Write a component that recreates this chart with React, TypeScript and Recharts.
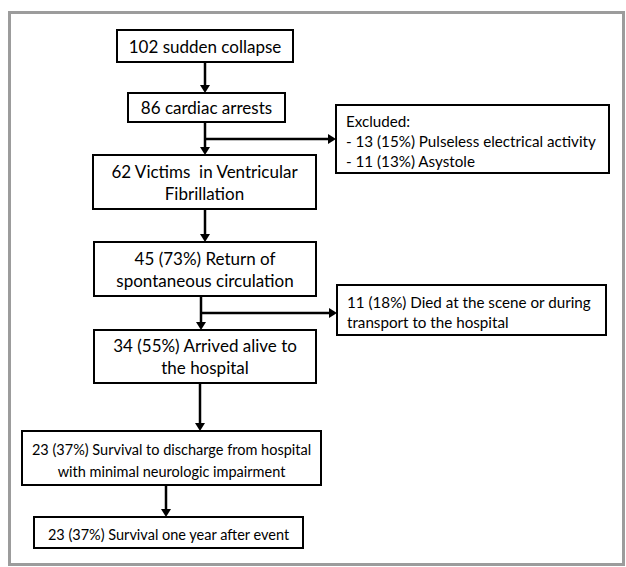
import React from "react";
import { ScatterChart, XAxis, YAxis, ReferenceArea, ReferenceLine } from "recharts";

// flow values
const stepCounts = [102, 86, 62, 45, 34, 23, 23];
const stepPercents: (number | null)[] = [null, null, null, 73, 55, 37, 37];
const stepText = [
  ["sudden collapse"],
  ["cardiac arrests"],
  ["Victims  in Ventricular", "Fibrillation"],
  ["Return of", "spontaneous circulation"],
  ["Arrived alive to", "the hospital"],
  ["Survival to discharge from hospital", "with minimal neurologic impairment"],
  ["Survival one year after event"],
];

const excludedCounts = [13, 11];
const excludedPercents = [15, 13];
const excludedCauses = ["Pulseless electrical activity", "Asystole"];

const diedCount = 11;
const diedPercent = 18;
const diedText = ["Died at the scene or during", "transport to the hospital"];

// layout (pixel space of the drawing)
const W = 626;
const H = 567;
const FONT = "Lato, 'Open Sans', sans-serif";
const SIDE_FONT = 15.2;

const MAIN_BOXES = [
  { x1: 117, x2: 293, y1: 30, y2: 62, font: 17, shift: 0 },
  { x1: 128, x2: 285, y1: 93, y2: 122, font: 17, shift: 0 },
  { x1: 93, x2: 316, y1: 155, y2: 209, font: 17, shift: 0 },
  { x1: 94, x2: 316, y1: 242, y2: 296, font: 17, shift: 0 },
  { x1: 94, x2: 316, y1: 330, y2: 383, font: 17, shift: 0 },
  { x1: 22, x2: 321, y1: 431, y2: 485, font: 14.5, shift: 2 },
  { x1: 34, x2: 303, y1: 517, y2: 548, font: 14.5, shift: 2 },
];
const SIDE_BOXES = [
  { x1: 336, x2: 609, y1: 105, y2: 173, shift: 2 },
  { x1: 337, x2: 606, y1: 285, y2: 335, shift: 2 },
];
const ARROWS = [
  { from: [205, 62], to: [205, 93], head: true },
  { from: [205, 122], to: [205, 155], head: true },
  { from: [205, 139], to: [336, 139], head: true },
  { from: [205, 209], to: [205, 242], head: true },
  { from: [201, 296], to: [201, 330], head: true },
  { from: [201, 313], to: [337, 313], head: true },
  { from: [200, 383], to: [200, 431], head: true },
  { from: [166, 485], to: [166, 517], head: true },
];

const pct = (p: number | null) => (p == null ? "" : ` (${p}%)`);

const mainLines = stepText.map((lines, i) => [
  `${stepCounts[i]}${pct(stepPercents[i])} ${lines[0]}`,
  ...lines.slice(1),
]);
const sideLines = [
  ["Excluded:", ...excludedCauses.map((c, i) => `- ${excludedCounts[i]} (${excludedPercents[i]}%) ${c}`)],
  [`${diedCount}${pct(diedPercent)} ${diedText[0]}`, ...diedText.slice(1)],
];

function boxText(props: any, lines: string[], side: boolean, font: number, shift = 0) {
  const { x, y, width, height } = props.viewBox;
  const gap = side ? 20 : 22;
  const cy = y + height / 2 + shift;
  const first = cy - ((lines.length - 1) * gap) / 2;
  const tx = side ? x + 10 : x + width / 2;
  return (
    <g>
      {lines.map((l, i) => (
        <text
          key={i}
          x={tx}
          y={first + i * gap}
          dominantBaseline="central"
          textAnchor={side ? "start" : "middle"}
          fontFamily={FONT}
          fontSize={font}
          fill="#000"
          style={{ whiteSpace: "pre" }}
        >
          {l}
        </text>
      ))}
    </g>
  );
}

function arrow(p: any, head: boolean) {
  const { x1, y1, x2, y2 } = p;
  const dx = x2 - x1;
  const dy = y2 - y1;
  const len = Math.hypot(dx, dy) || 1;
  const ux = dx / len;
  const uy = dy / len;
  const HL = head ? 8 : 0;
  const HW = 5;
  const bx = x2 - ux * HL;
  const by = y2 - uy * HL;
  return (
    <g>
      <line x1={x1} y1={y1} x2={bx} y2={by} stroke="#000" strokeWidth={2.5} />
      {head && (
        <polygon
          points={`${x2},${y2} ${bx - uy * HW},${by + ux * HW} ${bx + uy * HW},${by - ux * HW}`}
          fill="#000"
        />
      )}
    </g>
  );
}

export default function App() {
  return (
    <div style={{ position: "absolute", left: 0, top: 0, background: "#fff" }}>
      <ScatterChart width={W} height={H} margin={{ top: 0, right: 0, bottom: 0, left: 0 }}>
        <XAxis type="number" dataKey="x" domain={[0, W]} hide allowDataOverflow />
        <YAxis type="number" dataKey="y" domain={[0, H]} reversed hide allowDataOverflow />
        <ReferenceArea
          x1={9.5}
          x2={623.5}
          y1={12.5}
          y2={564.5}
          fill="none"
          stroke="#9c9c9c"
          strokeWidth={3}
        />
        {ARROWS.map((a, i) => (
          <ReferenceLine
            key={`a${i}`}
            segment={[
              { x: a.from[0], y: a.from[1] },
              { x: a.to[0], y: a.to[1] },
            ]}
            shape={(p: any) => arrow(p, a.head)}
          />
        ))}
        {MAIN_BOXES.map((b, i) => (
          <ReferenceArea
            key={`m${i}`}
            x1={b.x1}
            x2={b.x2}
            y1={b.y1}
            y2={b.y2}
            fill="#fff"
            fillOpacity={1}
            stroke="#000"
            strokeWidth={2}
            label={(p: any) => boxText(p, mainLines[i], false, b.font, b.shift)}
          />
        ))}
        {SIDE_BOXES.map((b, i) => (
          <ReferenceArea
            key={`s${i}`}
            x1={b.x1}
            x2={b.x2}
            y1={b.y1}
            y2={b.y2}
            fill="#fff"
            fillOpacity={1}
            stroke="#000"
            strokeWidth={2}
            label={(p: any) => boxText(p, sideLines[i], true, SIDE_FONT, b.shift)}
          />
        ))}
      </ScatterChart>
    </div>
  );
}
